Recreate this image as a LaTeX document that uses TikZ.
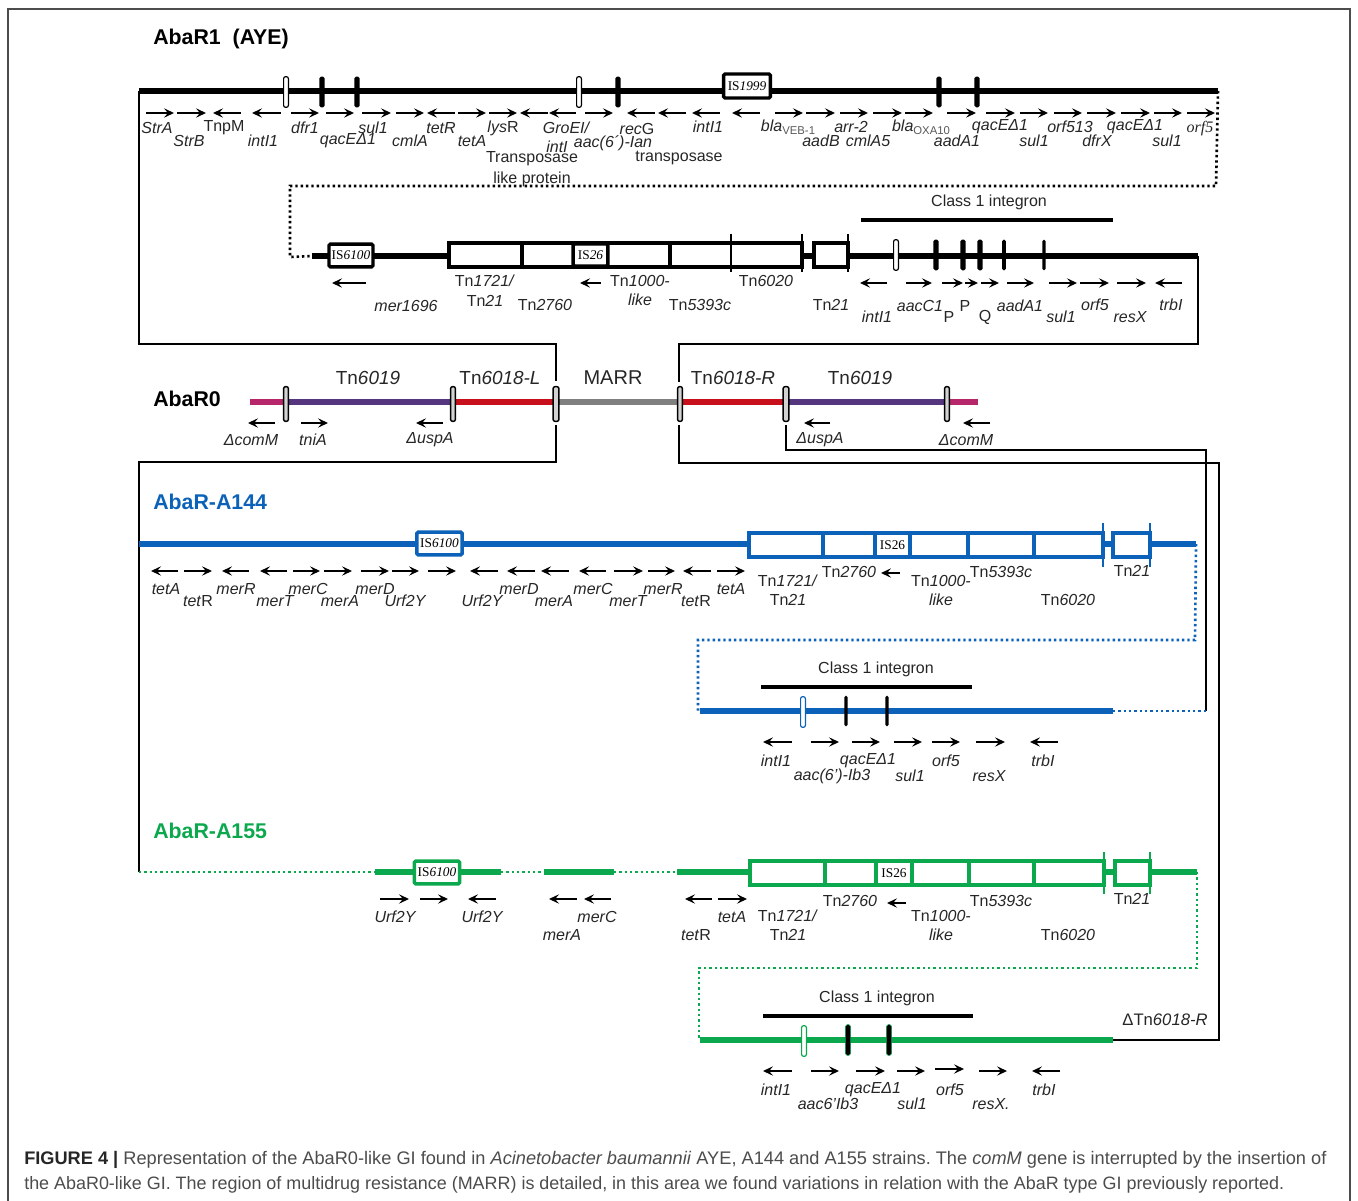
\documentclass[tikz,border=0pt]{standalone}
\usepackage{fontspec}
\setmainfont{Liberation Sans}
\newfontfamily\isfont{Liberation Serif}
\usetikzlibrary{arrows.meta, positioning, calc}
\definecolor{ablue}{HTML}{0B62B8}
\definecolor{agreen}{HTML}{0BA84E}
\definecolor{apink}{HTML}{B5276A}
\definecolor{apurple}{HTML}{54357E}
\definecolor{ared}{HTML}{C8101C}
\definecolor{agrey}{HTML}{808080}
\newcommand{\gf}{\fontsize{12}{14}\selectfont}
\newcommand{\subs}[1]{\raisebox{-2pt}{\fontsize{8.5}{9}\selectfont\upshape\color{black!65}#1}}
\frenchspacing

\begin{document}
\begin{tikzpicture}[x=0.75pt, y=-0.75pt,
  arr/.style={-{Stealth[length=7.5pt, width=7pt, inset=3pt]}, line width=1.2pt, black},
  gene/.style={font=\gf\itshape, inner sep=0pt, text=black!85},
  tn/.style={font=\gf, inner sep=0pt, text=black!85},
  tnbig/.style={font=\fontsize{14.2}{17}\selectfont, inner sep=0pt, text=black!85},
  title/.style={font=\fontsize{16}{18}\selectfont\bfseries, inner sep=0pt},
  backbone/.style={line width=4pt},
  thinline/.style={line width=1.8pt},
  dots/.style={line width=2pt, dash pattern=on 1.8pt off 2.2pt},
  pill/.style={draw, line width=.9pt, fill=white, minimum width=3.6pt, minimum height=23pt, inner sep=0pt, rounded corners=1.5pt},
  bar/.style={fill=black, minimum width=3.8pt, minimum height=23pt, inner sep=0pt, rounded corners=1.2pt},
  grey pill/.style={pill, fill=gray!35, line width=1.1pt, minimum height=26pt},
  isbox/.style={draw, line width=2.6pt, fill=white, minimum width=34pt, minimum height=17pt, inner sep=0pt, rounded corners=1pt, font=\isfont\fontsize{10}{10}\selectfont},
  tick/.style={line width=1.2pt},
  blk/.style={line width=2.8pt, fill=white},
  inte/.style={line width=2.7pt},
]
  \useasboundingbox (0,0) rectangle (1358,1201);
  \draw[gray!60!black, line width=.8pt] (8,1201) -- (8,9) -- (1350,9) -- (1350,1201);

  % Titles
  \node[title, anchor=west] (tAYE) at (153,38.5) {AbaR1\ \ (AYE)};
  \node[title, anchor=west] (tR0) at (153,399) {AbaR0};
  \node[title, anchor=west, text=ablue] (tA144) at (153,502) {AbaR-A144};
  \node[title, anchor=west, text=agreen] (tA155) at (153,831) {AbaR-A155};

  % Frame lines
  \coordinate (aL) at (139,91); \coordinate (aR) at (1218,91);
  \coordinate (bL) at (312,256); \coordinate (bR) at (1198,256);
  \coordinate (cL) at (139,544); \coordinate (cR) at (1196,544);
  \coordinate (dL) at (139,872); \coordinate (dR) at (1197,872);
  \coordinate (eL) at (700,711); \coordinate (eR) at (1113,711);
  \coordinate (fL) at (700,1040); \coordinate (fR) at (1113,1040);
  \draw[thinline] (aL) -- (139,344) -- (556,344) -- (556,381);
  \draw[thinline] (bR) -- (1198,344) -- (679,344) -- (679,382);
  \draw[thinline] (556,425) -- (556,462) -- (139,462) -- (dL);
  \draw[thinline] (679,425) -- (679,463) -- (1219,463) -- (1219,1040) -- (fR);
  \draw[thinline] (786,425) -- (786,450) -- (1206,450) -- (1206,711);

  % AbaR1 row 1
  \draw[backbone, line cap=butt] (aL) -- (aR);
  \draw[dots] (aR) -- (1216,186) -- (290,186) -- (290,257) -- (bL);
  \node[pill] (p1) at (286,92) {}; \node[bar] (b1) at (322,92) {}; \node[bar] (b2) at (357,92) {};
  \node[pill] (p2) at (579,92) {}; \node[bar] (b3) at (618,92) {};
  \node[isbox, minimum width=35pt, minimum height=18pt] (is1999) at (747,86) {IS\textit{1999}};
  \node[bar] (b4) at (939,92) {}; \node[bar] (b5) at (977,92) {};

  \draw[arr] (146,113) -- (174,113); \draw[arr] (177,113) -- (206,113); \draw[arr] (241,113) -- (213,113);
  \draw[arr] (281,113) -- (252,113); \draw[arr] (291,113) -- (319,113); \draw[arr] (326,113) -- (354,113);
  \draw[arr] (362,113) -- (391,113); \draw[arr] (396,113) -- (424,113); \draw[arr] (455,113) -- (427,113);
  \draw[arr] (458,113) -- (486,113); \draw[arr] (489,113) -- (517,113); \draw[arr] (548,113) -- (520,113);
  \draw[arr] (576,113) -- (549,113); \draw[arr] (585,113) -- (613,113); \draw[arr] (655,113) -- (627,113);
  \draw[arr] (686,113) -- (658,113); \draw[arr] (720,113) -- (692,113); \draw[arr] (760,113) -- (732,113);
  \draw[arr] (775,113) -- (803,113); \draw[arr] (806,113) -- (835,113); \draw[arr] (840,113) -- (868,113);
  \draw[arr] (873,113) -- (902,113); \draw[arr] (905,113) -- (933,113); \draw[arr] (947,113) -- (976,113);
  \draw[arr] (986,113) -- (1015,113); \draw[arr] (1020,113) -- (1048,113); \draw[arr] (1054,113) -- (1082,113);
  \draw[arr] (1087,113) -- (1116,113); \draw[arr] (1121,113) -- (1150,113); \draw[arr] (1154,113) -- (1182,113);
  \draw[arr] (1187,113) -- (1215,113);

  \node[gene] (strA) at (157,128) {StrA};
  \node[gene] (strB) at (189,141) {StrB};
  \node[tn] (tnpM) at (224,128) {TnpM};
  \node[gene] (intI1a) at (263,141) {intI1};
  \node[gene] (dfr1) at (305,128) {dfr1};
  \node[gene] (qacEa) at (348,141) {qacEΔ1};
  \node[gene] (sul1a) at (373,128) {sul1};
  \node[gene] (cmlA) at (410,141) {cmlA};
  \node[gene] (tetRa) at (441,128) {tetR};
  \node[gene] (tetAa) at (472,141) {tetA};
  \node[gene] (lysR) at (503,128) {lys\textup{R}};
  \node[gene] (groEl) at (566,128) {GroEI/};
  \node[gene] (intIb) at (557,147) {intI};
  \node[gene] (aacIan) at (613,143) {aac(6´)-Ian};
  \node[gene] (recG) at (637,129) {rec\textup{G}};
  \node[tn] (transp1) at (532,159) {Transposase};
  \node[tn] (transp2) at (532,179) {like protein};
  \node[tn] (transp3) at (679,158) {transposase};
  \node[gene] (intI1c) at (708,127) {intI1};
  \node[gene] (blaV) at (788,127) {bla\subs{VEB-1}};
  \node[gene] (aadB) at (821,141) {aadB};
  \node[gene] (arr2) at (851,127) {arr-2};
  \node[gene] (cmlA5) at (868,141) {cmlA5};
  \node[gene] (blaO) at (921,127) {bla\subs{OXA10}};
  \node[gene] (aadA1a) at (957,141) {aadA1};
  \node[gene] (qacEb) at (1000,127) {qacEΔ1};
  \node[gene] (sul1b) at (1034,141) {sul1};
  \node[gene] (orf513) at (1070,127) {orf513};
  \node[gene] (dfrX) at (1097,141) {dfrX};
  \node[gene] (qacEc) at (1135,127) {qacEΔ1};
  \node[gene] (sul1c) at (1167,141) {sul1};
  \node[gene, font=\isfont\gf\itshape] (orf5a) at (1200,129) {orf5};

  % AbaR1 row 2
  \draw[backbone] (bL) -- (bR);
  \node[isbox, minimum width=33pt] (is6100a) at (351,255.5) {IS\textit{6100}};
  \draw[blk] (449,243) rectangle (802,267);
  \draw[blk] (522,243) -- (522,267) (670,243) -- (670,267);
  \node[isbox, minimum width=26pt, minimum height=16.5pt] (is26a) at (590.5,255) {IS\textit{26}};
  \draw[blk] (814,243) rectangle (848,267);
  \draw[tick] (731,234) -- (731,272) (802,234) -- (802,272) (848,234) -- (848,272);
  \node[pill, line width=.9pt] (p3) at (896,255) {};
  \node[bar] (b6) at (936,255) {}; \node[bar] (b7) at (963,255) {}; \node[bar] (b8) at (980,255) {};
  \node[bar, minimum width=2.8pt] (b9) at (1004,255) {}; \node[bar, minimum width=2.4pt] (b10) at (1044,255) {};
  \node[tn] (class1a) at (989,202) {Class 1 integron};
  \draw[inte] (861,220) -- (1113,220);

  \draw[arr] (366,283) -- (332,283); \draw[arr] (601,283) -- (580,283); \draw[arr] (887,283) -- (860,283);
  \draw[arr] (906,283) -- (932,283); \draw[arr] (942,283) -- (963,283); \draw[arr] (965,283) -- (978,283);
  \draw[arr] (981,283) -- (999,283); \draw[arr] (1007,283) -- (1034,283); \draw[arr] (1049,283) -- (1077,283);
  \draw[arr] (1080,283) -- (1109,283); \draw[arr] (1117,283) -- (1146,283); \draw[arr] (1182,283) -- (1155,283);

  \node[gene] (mer1696) at (406,306) {mer1696};
  \node[tn] (tn1721a) at (485,281) {Tn\textit{1721/}};
  \node[tn] (tn21a) at (485,301) {Tn\textit{21}};
  \node[tn] (tn2760a) at (545,305) {Tn\textit{2760}};
  \node[tn] (tn1000a) at (640,281) {Tn\textit{1000-}};
  \node[gene] (likea) at (640,300) {like};
  \node[tn] (tn5393a) at (700,305) {Tn\textit{5393c}};
  \node[tn] (tn6020a) at (766,281) {Tn\textit{6020}};
  \node[tn] (tn21b) at (831,305) {Tn\textit{21}};
  \node[gene] (intI1d) at (877,317) {intI1};
  \node[gene] (aacC1) at (920,306) {aacC1};
  \node[tn] (pA) at (949,317) {P};
  \node[tn] (pB) at (965,306) {P};
  \node[tn] (qA) at (985,317) {Q};
  \node[gene] (aadA1b) at (1020,306) {aadA1};
  \node[gene] (sul1d) at (1061,317) {sul1};
  \node[gene] (orf5b) at (1095,305) {orf5};
  \node[gene] (resXa) at (1130,317) {resX};
  \node[gene] (trbIa) at (1171,305) {trbI};

  % AbaR0
  \draw[apink, backbone] (250,402) -- (286,402);
  \draw[apurple, backbone] (286,402) -- (453,402);
  \draw[ared, backbone] (453,402) -- (556,402);
  \draw[agrey, backbone] (556,402) -- (680,402);
  \draw[ared, backbone] (680,402) -- (786,402);
  \draw[apurple, backbone] (786,402) -- (947,402);
  \draw[apink, backbone] (947,402) -- (978,402);
  \node[grey pill] (g1) at (286,404) {}; \node[grey pill] (g2) at (453,404) {};
  \node[grey pill, minimum width=4.4pt] (g3) at (556,404) {}; \node[grey pill] (g4) at (680,404) {};
  \node[grey pill, minimum width=4.4pt] (g5) at (786,404) {}; \node[grey pill] (g6) at (947,404) {};

  \node[tnbig] (tn6019a) at (368,378) {Tn\textit{6019}};
  \node[tnbig] (tn6018L) at (500,378) {Tn\textit{6018-L}};
  \node[tnbig, font=\fontsize{15}{17}\selectfont] (marr) at (613,378) {MARR};
  \node[tnbig] (tn6018R) at (733,378) {Tn\textit{6018-R}};
  \node[tnbig] (tn6019b) at (860,378) {Tn\textit{6019}};

  \draw[arr] (275,423) -- (248,423); \draw[arr] (301,423) -- (328,423); \draw[arr] (443,423) -- (416,423);
  \draw[arr] (830,423) -- (804,423); \draw[arr] (990,423) -- (963,423);
  \node[gene] (comMa) at (251,440) {ΔcomM};
  \node[gene] (tniA) at (313,440) {tniA};
  \node[gene] (uspAa) at (430,440) {ΔuspA};
  \node[gene] (uspAb) at (820,440) {ΔuspA};
  \node[gene] (comMb) at (966,440) {ΔcomM};

  % AbaR-A144
  \draw[ablue, backbone] (cL) -- (cR);
  \node[isbox, draw=ablue] (is6100b) at (439.5,543.5) {IS\textit{6100}};
  \draw[blk, draw=ablue] (749,533) rectangle (1103,557);
  \draw[blk, draw=ablue] (823,533) -- (823,557) (875,533) -- (875,557) (910,533) -- (910,557) (968,533) -- (968,557) (1034,533) -- (1034,557);
  \node[inner sep=0pt, font=\isfont\fontsize{10}{10}\selectfont] (is26b) at (892.5,545) {IS26};
  \draw[blk, draw=ablue] (1113,533) rectangle (1150,557);
  \draw[tick, ablue] (1103,523) -- (1103,567) (1150,523) -- (1150,567);

  \draw[arr] (178,571) -- (151,571); \draw[arr] (184,571) -- (212,571); \draw[arr] (249,571) -- (222,571);
  \draw[arr] (287,571) -- (260,571); \draw[arr] (293,571) -- (320,571); \draw[arr] (324,571) -- (352,571);
  \draw[arr] (361,571) -- (389,571); \draw[arr] (392,571) -- (419,571); \draw[arr] (428,571) -- (456,571);
  \draw[arr] (498,571) -- (470,571); \draw[arr] (535,571) -- (507,571); \draw[arr] (569,571) -- (541,571);
  \draw[arr] (606,571) -- (579,571); \draw[arr] (614,571) -- (643,571); \draw[arr] (648,571) -- (675,571);
  \draw[arr] (711,571) -- (683,571); \draw[arr] (717,571) -- (745,571); \draw[arr] (900,573) -- (881,573);

  \node[gene] (tetAb) at (166,589) {tetA};
  \node[gene] (tetRb) at (198,601) {tet\textup{R}};
  \node[gene] (merRa) at (236,589) {merR};
  \node[gene] (merTa) at (275,601) {merT};
  \node[gene] (merCa) at (308,589) {merC};
  \node[gene] (merAa) at (340,601) {merA};
  \node[gene] (merDa) at (375,589) {merD};
  \node[gene] (urfA) at (405,601) {Urf2Y};
  \node[gene] (urfB) at (482,601) {Urf2Y};
  \node[gene] (merDb) at (519,589) {merD};
  \node[gene] (merAb) at (554,601) {merA};
  \node[gene] (merCb) at (593,589) {merC};
  \node[gene] (merTb) at (628,601) {merT};
  \node[gene] (merRb) at (663,589) {merR};
  \node[gene] (tetRc) at (696,601) {tet\textup{R}};
  \node[gene] (tetAc) at (731,589) {tetA};
  \node[tn] (tn1721b) at (788,581) {Tn\textit{1721/}};
  \node[tn] (tn21c) at (788,600) {Tn\textit{21}};
  \node[tn] (tn2760b) at (849,572) {Tn\textit{2760}};
  \node[tn] (tn1000b) at (941,581) {Tn\textit{1000-}};
  \node[gene] (likeb) at (941,600) {like};
  \node[tn] (tn5393b) at (1001,572) {Tn\textit{5393c}};
  \node[tn] (tn6020b) at (1068,600) {Tn\textit{6020}};
  \node[tn] (tn21d) at (1132,571) {Tn\textit{21}};

  \draw[dots, ablue] (cR) -- (1195,640) -- (698,640) -- (698,711) -- (eL);
  \draw[ablue, backbone] (eL) -- (eR);
  \draw[dots, ablue] (eR) -- (1206,711);
  \node[tn] (class1b) at (876,669) {Class 1 integron};
  \draw[inte] (761,687) -- (972,687);
  \node[pill, draw=ablue] (p4) at (803,712) {};
  \node[bar, minimum width=2.6pt] (b11) at (846,711) {}; \node[bar, minimum width=2.6pt] (b12) at (887,711) {};

  \draw[arr] (792,742) -- (763,742); \draw[arr] (811,742) -- (839,742); \draw[arr] (852,742) -- (880,742);
  \draw[arr] (894,742) -- (922,742); \draw[arr] (932,742) -- (960,742); \draw[arr] (976,742) -- (1005,742);
  \draw[arr] (1058,742) -- (1030,742);
  \node[gene] (intI1e) at (776,761) {intI1};
  \node[gene] (aacIb) at (832,776) {aac(6')-Ib3};
  \node[gene] (qacEd) at (868,761) {qacEΔ1};
  \node[gene] (sul1e) at (910,776) {sul1};
  \node[gene] (orf5c) at (946,761) {orf5};
  \node[gene] (resXb) at (989,776) {resX};
  \node[gene] (trbIb) at (1043,761) {trbI};

  % AbaR-A155
  \draw[dots, agreen] (dL) -- (375,872);
  \draw[agreen, backbone] (375,872) -- (501,872);
  \draw[dots, agreen] (501,872) -- (544,872);
  \draw[agreen, backbone] (544,872) -- (614,872);
  \draw[dots, agreen] (614,872) -- (677,872);
  \draw[agreen, backbone] (677,872) -- (dR);
  \node[isbox, draw=agreen] (is6100c) at (437,872.5) {IS\textit{6100}};
  \draw[blk, draw=agreen] (750,861) rectangle (1104,885);
  \draw[blk, draw=agreen] (825,861) -- (825,885) (876,861) -- (876,885) (912,861) -- (912,885) (969,861) -- (969,885) (1034,861) -- (1034,885);
  \node[inner sep=0pt, font=\isfont\fontsize{10}{10}\selectfont] (is26c) at (894,873) {IS26};
  \draw[blk, draw=agreen] (1115,861) rectangle (1150,885);
  \draw[tick, agreen] (1104,852) -- (1104,894) (1150,852) -- (1150,894);

  \draw[arr] (380,899) -- (409,899); \draw[arr] (420,899) -- (448,899); \draw[arr] (496,899) -- (468,899);
  \draw[arr] (577,899) -- (549,899); \draw[arr] (611,899) -- (584,899); \draw[arr] (712,899) -- (685,899);
  \draw[arr] (718,899) -- (747,899); \draw[arr] (906,903) -- (887,903);

  \node[gene] (urfC) at (395,917) {Urf2Y};
  \node[gene] (urfD) at (482,917) {Urf2Y};
  \node[gene] (merCc) at (597,917) {merC};
  \node[gene] (merAc) at (562,935) {merA};
  \node[gene] (tetRd) at (696,935) {tet\textup{R}};
  \node[gene] (tetAd) at (732,917) {tetA};
  \node[tn] (tn1721c) at (788,916) {Tn\textit{1721/}};
  \node[tn] (tn21e) at (788,935) {Tn\textit{21}};
  \node[tn] (tn2760c) at (850,901) {Tn\textit{2760}};
  \node[tn] (tn1000c) at (941,916) {Tn\textit{1000-}};
  \node[gene] (likec) at (941,935) {like};
  \node[tn] (tn5393c) at (1001,901) {Tn\textit{5393c}};
  \node[tn] (tn6020c) at (1068,935) {Tn\textit{6020}};
  \node[tn] (tn21f) at (1132,899) {Tn\textit{21}};

  \draw[dots, agreen] (dR) -- (1197,968) -- (699,968) -- (699,1040) -- (fL);
  \draw[agreen, backbone] (fL) -- (fR);
  \node[tn] (class1c) at (877,998) {Class 1 integron};
  \draw[inte] (763,1016) -- (973,1016);
  \node[tn, font=\fontsize{12.5}{14}\selectfont] (dTn) at (1165,1020) {ΔTn\textit{6018-R}};
  \node[pill, draw=agreen] (p5) at (804,1041) {};
  \node[bar, draw=agreen, line width=.4pt] (b13) at (848,1040) {}; \node[bar, draw=agreen, line width=.4pt] (b14) at (889,1040) {};

  \draw[arr] (792,1071) -- (763,1071); \draw[arr] (811,1071) -- (839,1071); \draw[arr] (856,1071) -- (885,1071);
  \draw[arr] (897,1071) -- (925,1071); \draw[arr] (935,1069) -- (964,1069); \draw[arr] (979,1071) -- (1007,1071);
  \draw[arr] (1060,1071) -- (1032,1071);
  \node[gene] (intI1f) at (776,1090) {intI1};
  \node[gene] (aac6) at (828,1104) {aac6'Ib3};
  \node[gene] (qacEe) at (873,1090) {qacEΔ1};
  \node[gene] (sul1f) at (912,1104) {sul1};
  \node[gene] (orf5d) at (950,1090) {orf5};
  \node[gene] (resXc) at (991,1104) {resX.};
  \node[gene] (trbIc) at (1044,1090) {trbI};

  % Caption
  \node[inner sep=0pt, anchor=base west, text=black!70, font=\fontsize{13.65}{15}\selectfont] (cap1) at (24,1164) {\textcolor{black!85}{\textbf{FIGURE 4 |}} Representation of the AbaR0-like GI found in \textit{Acinetobacter baumannii} AYE, A144 and A155 strains. The \textit{comM} gene is interrupted by the insertion of};
  \node[inner sep=0pt, anchor=base west, text=black!70, font=\fontsize{13.45}{15}\selectfont] (cap2) at (24,1189) {the AbaR0-like GI. The region of multidrug resistance (MARR) is detailed, in this area we found variations in relation with the AbaR type GI previously reported.};
\end{tikzpicture}
\end{document}
